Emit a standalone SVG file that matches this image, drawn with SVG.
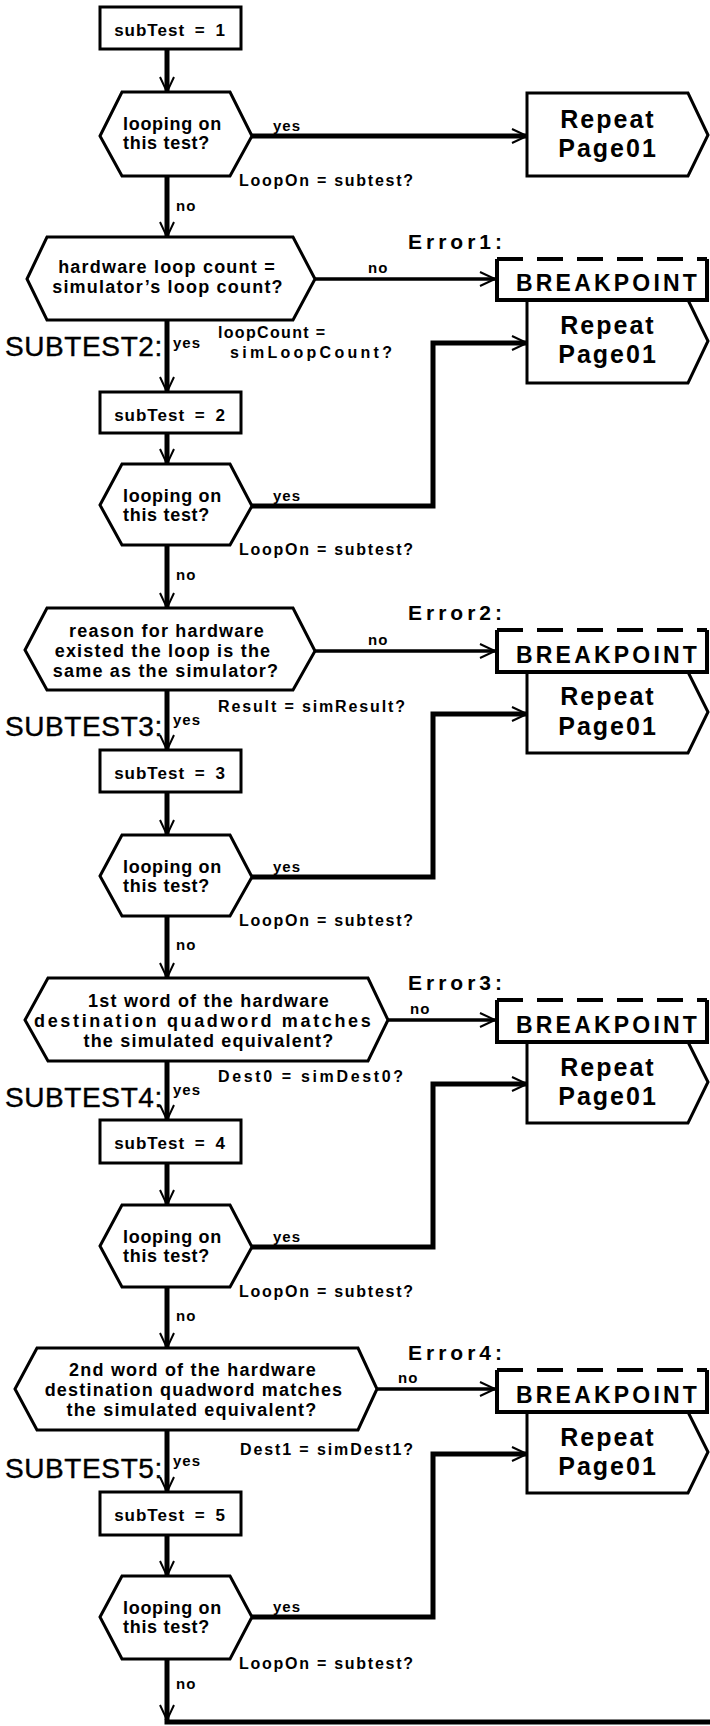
<svg xmlns="http://www.w3.org/2000/svg" width="710" height="1726" viewBox="0 0 710 1726">
<style>
text{font-family:"Liberation Sans",Arial,Helvetica,sans-serif;fill:#000;font-weight:bold}
.shape{fill:#fff;stroke:#000;stroke-width:3;stroke-linejoin:miter}
.conn{fill:none;stroke:#000;stroke-width:5}
.nol{fill:none;stroke:#000;stroke-width:3.5}
.bpside{fill:none;stroke:#000;stroke-width:4}
.bpdash{fill:none;stroke:#000;stroke-width:4;stroke-dasharray:26 14}
.bx{font-size:17px;letter-spacing:1px;word-spacing:4px}
.lp{font-size:18px;letter-spacing:0.7px}
.dq{font-size:18px;letter-spacing:1.2px;text-anchor:middle}
.sm{font-size:16px}
.yn{font-size:15px;letter-spacing:1px}
.err{font-size:21px;letter-spacing:4px}
.bp{font-size:23px;letter-spacing:3.2px}
.rp{font-size:25px;letter-spacing:2px;text-anchor:middle}
.st{font-size:28px;font-weight:normal;letter-spacing:0.6px;stroke:#000;stroke-width:0.4px}
</style>
<defs>
<marker id="arr" markerUnits="userSpaceOnUse" markerWidth="20" markerHeight="20" viewBox="-17 -10 20 20" refX="0" refY="0" orient="auto" overflow="visible">
<path d="M-15,-7 L0,0 L-15,7" fill="none" stroke="#000" stroke-width="2"/>
</marker>
</defs>

<g id="connectors">
<path class="conn" d="M167,49 V92" marker-end="url(#arr)"/>
<path class="conn" d="M252,136 H527" marker-end="url(#arr)"/>
<path class="conn" d="M167,176 V237" marker-end="url(#arr)"/>
<path class="nol" d="M315,279 H495" marker-end="url(#arr)"/>
<path class="conn" d="M167,320 V392" marker-end="url(#arr)"/>
<path class="conn" d="M167,433 V464" marker-end="url(#arr)"/>
<path class="conn" d="M252,506 H433 V343 H527" marker-end="url(#arr)"/>
<path class="conn" d="M167,545 V608" marker-end="url(#arr)"/>
<path class="nol" d="M315,651 H495" marker-end="url(#arr)"/>
<path class="conn" d="M167,690 V750" marker-end="url(#arr)"/>
<path class="conn" d="M167,792 V835" marker-end="url(#arr)"/>
<path class="conn" d="M252,877 H433 V714 H527" marker-end="url(#arr)"/>
<path class="conn" d="M167,916 V978" marker-end="url(#arr)"/>
<path class="nol" d="M388,1020 H495" marker-end="url(#arr)"/>
<path class="conn" d="M167,1061 V1120" marker-end="url(#arr)"/>
<path class="conn" d="M167,1163 V1205" marker-end="url(#arr)"/>
<path class="conn" d="M252,1247 H433 V1084 H527" marker-end="url(#arr)"/>
<path class="conn" d="M167,1287 V1348" marker-end="url(#arr)"/>
<path class="nol" d="M377,1389 H495" marker-end="url(#arr)"/>
<path class="conn" d="M167,1430 V1492" marker-end="url(#arr)"/>
<path class="conn" d="M167,1535 V1576" marker-end="url(#arr)"/>
<path class="conn" d="M252,1617 H433 V1454 H527" marker-end="url(#arr)"/>
<path class="conn" d="M167,1659 V1720" marker-end="url(#arr)"/>
<path class="conn" d="M164.5,1722 H710"/>
</g>

<g id="labels">
<text class="yn" x="273" y="131">yes</text>
<text class="sm" x="239" y="186" textLength="174" lengthAdjust="spacing">LoopOn = subtest?</text>
<text class="yn" x="176" y="211">no</text>
<text class="yn" x="368" y="273">no</text>
<text class="sm" x="218" y="338" textLength="107" lengthAdjust="spacing">loopCount =</text>
<text class="sm" x="230" y="358" textLength="162" lengthAdjust="spacing">simLoopCount?</text>
<text class="yn" x="173" y="348">yes</text>
<text class="yn" x="273" y="501">yes</text>
<text class="sm" x="239" y="555" textLength="174" lengthAdjust="spacing">LoopOn = subtest?</text>
<text class="yn" x="176" y="580">no</text>
<text class="yn" x="368" y="645">no</text>
<text class="sm" x="218" y="712" textLength="187" lengthAdjust="spacing">Result = simResult?</text>
<text class="yn" x="173" y="725">yes</text>
<text class="yn" x="273" y="872">yes</text>
<text class="sm" x="239" y="926" textLength="174" lengthAdjust="spacing">LoopOn = subtest?</text>
<text class="yn" x="176" y="950">no</text>
<text class="yn" x="410" y="1014">no</text>
<text class="sm" x="218" y="1082" textLength="185" lengthAdjust="spacing">Dest0 = simDest0?</text>
<text class="yn" x="173" y="1095">yes</text>
<text class="yn" x="273" y="1242">yes</text>
<text class="sm" x="239" y="1297" textLength="174" lengthAdjust="spacing">LoopOn = subtest?</text>
<text class="yn" x="176" y="1321">no</text>
<text class="yn" x="398" y="1383">no</text>
<text class="sm" x="240" y="1455" textLength="173" lengthAdjust="spacing">Dest1 = simDest1?</text>
<text class="yn" x="173" y="1466">yes</text>
<text class="yn" x="273" y="1612">yes</text>
<text class="sm" x="239" y="1669" textLength="174" lengthAdjust="spacing">LoopOn = subtest?</text>
<text class="yn" x="176" y="1689">no</text>
</g>

<g id="set1">
<rect class="shape" x="100" y="7" width="141" height="42"/>
<text class="bx" x="170" y="36" text-anchor="middle">subTest = 1</text>
</g>
<g id="loop1">
<polygon class="shape" points="100,136 122,92 230,92 252,136 230,176 122,176"/>
<text class="lp" x="123" y="130">looping on</text>
<text class="lp" x="123" y="149">this test?</text>
</g>
<g id="repeat0">
<polygon class="shape" points="527,93 688,93 708,135 688,176 527,176"/>
<text class="rp" x="608" y="128">Repeat</text>
<text class="rp" x="608" y="157">Page01</text>
</g>

<g id="check1">
<polygon class="shape" points="27,279 47,237 293,237 315,279 293,320 47,320"/>
<text class="dq" x="167" y="273">hardware loop count =</text>
<text class="dq" x="168" y="293">simulator’s loop count?</text>
</g>
<g id="repeat1">
<polygon class="shape" points="527,300 688,300 708,341 688,383 527,383"/>
<text class="rp" x="608" y="334">Repeat</text>
<text class="rp" x="608" y="363">Page01</text>
</g>
<g id="error1">
<text class="err" x="408" y="249">Error1:</text>
<rect x="497" y="259" width="210" height="41" fill="#fff"/>
<path class="bpside" d="M497,259 V300 H707 V259"/>
<path class="bpdash" d="M497,259 H707"/>
<text class="bp" x="516" y="291">BREAKPOINT</text>
</g>
<g id="subtest2">
<text class="st" x="5" y="356">SUBTEST2:</text>
<rect class="shape" x="100" y="392" width="141" height="41"/>
<text class="bx" x="170" y="421" text-anchor="middle">subTest = 2</text>
</g>
<g id="loop2">
<polygon class="shape" points="100,505 122,464 230,464 252,506 230,545 122,545"/>
<text class="lp" x="123" y="502">looping on</text>
<text class="lp" x="123" y="521">this test?</text>
</g>

<g id="check2">
<polygon class="shape" points="25,650 47,608 293,608 315,651 293,690 47,690"/>
<text class="dq" x="167" y="637">reason for hardware</text>
<text class="dq" x="163" y="657">existed the loop is the</text>
<text class="dq" x="166" y="677">same as the simulator?</text>
</g>
<g id="repeat2">
<polygon class="shape" points="527,672 688,672 708,712 688,753 527,753"/>
<text class="rp" x="608" y="705">Repeat</text>
<text class="rp" x="608" y="735">Page01</text>
</g>
<g id="error2">
<text class="err" x="408" y="620">Error2:</text>
<rect x="497" y="630" width="210" height="42" fill="#fff"/>
<path class="bpside" d="M497,630 V672 H707 V630"/>
<path class="bpdash" d="M497,630 H707"/>
<text class="bp" x="516" y="663">BREAKPOINT</text>
</g>
<g id="subtest3">
<text class="st" x="5" y="736">SUBTEST3:</text>
<rect class="shape" x="100" y="750" width="141" height="42"/>
<text class="bx" x="170" y="779" text-anchor="middle">subTest = 3</text>
</g>
<g id="loop3">
<polygon class="shape" points="100,876 122,835 230,835 252,877 230,916 122,916"/>
<text class="lp" x="123" y="873">looping on</text>
<text class="lp" x="123" y="892">this test?</text>
</g>

<g id="check3">
<polygon class="shape" points="25,1020 48,978 368,978 388,1020 368,1061 48,1061"/>
<text class="dq" x="209" y="1007">1st word of the hardware</text>
<text class="dq" x="203" y="1027" textLength="338" lengthAdjust="spacing">destination quadword matches</text>
<text class="dq" x="209" y="1047">the simulated equivalent?</text>
</g>
<g id="repeat3">
<polygon class="shape" points="527,1042 688,1042 708,1082 688,1123 527,1123"/>
<text class="rp" x="608" y="1076">Repeat</text>
<text class="rp" x="608" y="1105">Page01</text>
</g>
<g id="error3">
<text class="err" x="408" y="990">Error3:</text>
<rect x="497" y="1000" width="210" height="42" fill="#fff"/>
<path class="bpside" d="M497,1000 V1042 H707 V1000"/>
<path class="bpdash" d="M497,1000 H707"/>
<text class="bp" x="516" y="1033">BREAKPOINT</text>
</g>
<g id="subtest4">
<text class="st" x="5" y="1107">SUBTEST4:</text>
<rect class="shape" x="100" y="1120" width="141" height="43"/>
<text class="bx" x="170" y="1149" text-anchor="middle">subTest = 4</text>
</g>
<g id="loop4">
<polygon class="shape" points="100,1246 122,1205 230,1205 252,1247 230,1287 122,1287"/>
<text class="lp" x="123" y="1243">looping on</text>
<text class="lp" x="123" y="1262">this test?</text>
</g>

<g id="check4">
<polygon class="shape" points="15,1389 37,1348 358,1348 377,1389 358,1430 37,1430"/>
<text class="dq" x="193" y="1376">2nd word of the hardware</text>
<text class="dq" x="194" y="1396">destination quadword matches</text>
<text class="dq" x="192" y="1416">the simulated equivalent?</text>
</g>
<g id="repeat4">
<polygon class="shape" points="527,1412 688,1412 708,1452 688,1493 527,1493"/>
<text class="rp" x="608" y="1446">Repeat</text>
<text class="rp" x="608" y="1475">Page01</text>
</g>
<g id="error4">
<text class="err" x="408" y="1360">Error4:</text>
<rect x="497" y="1370" width="210" height="42" fill="#fff"/>
<path class="bpside" d="M497,1370 V1412 H707 V1370"/>
<path class="bpdash" d="M497,1370 H707"/>
<text class="bp" x="516" y="1403">BREAKPOINT</text>
</g>
<g id="subtest5">
<text class="st" x="5" y="1478">SUBTEST5:</text>
<rect class="shape" x="100" y="1492" width="141" height="43"/>
<text class="bx" x="170" y="1521" text-anchor="middle">subTest = 5</text>
</g>
<g id="loop5">
<polygon class="shape" points="100,1617 122,1576 230,1576 252,1617 230,1659 122,1659"/>
<text class="lp" x="123" y="1614">looping on</text>
<text class="lp" x="123" y="1633">this test?</text>
</g>
</svg>
